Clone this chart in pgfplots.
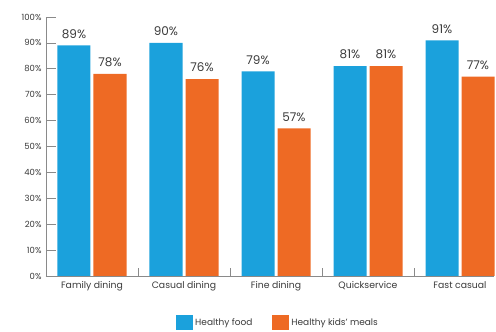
\documentclass[border=0pt]{standalone}
\usepackage{pgfplots}
\pgfplotsset{compat=1.18}
\usepackage{fontspec}
\setmainfont{Poppins}
\definecolor{cblue}{HTML}{1BA1DC}
\definecolor{corange}{HTML}{EE6A24}
\definecolor{axgray}{HTML}{8A8A8A}
\definecolor{txt}{HTML}{3A3A3A}
\begin{document}
\begin{tikzpicture}
\path[use as bounding box] (0,0) rectangle (496pt,332pt);
\begin{axis}[
  at={(46pt,56pt)}, anchor=south west,
  scale only axis, width=448pt, height=259pt,
  xmin=-0.5, xmax=4.3696, ymin=0, ymax=100,
  axis lines*=left,
  axis line style={axgray, line width=0.8pt},
  ybar, bar width=33pt,
  xtick={0,1,2,3,4},
  xticklabels={Family dining,Casual dining,Fine dining,Quickservice,Fast casual},
  minor xtick={0.5,1.5,2.5,3.5},
  every major x tick/.style={draw=none},
  every minor x tick/.style={axgray, line width=0.6pt},
  minor tick length=8pt,
  ytick={0,10,...,100},
  yticklabel={\pgfmathprintnumber{\tick}\%},
  every major y tick/.style={axgray, line width=0.6pt},
  major tick length=10pt,
  tick align=inside,
  x tick label style={font=\fontsize{9.3}{11}\selectfont, text=txt, yshift=-2pt},
  y tick label style={font=\fontsize{8.5}{10}\selectfont, text=txt, xshift=-1pt},
  /pgf/number format/assume math mode=true,
  nodes near coords={\pgfmathprintnumber{\pgfplotspointmeta}\%},
  every node near coord/.append style={font=\fontsize{12}{14}\selectfont, text=txt, yshift=3.5pt},
  clip=false,
  legend columns=2,
  legend style={at={(0.518,-0.181)}, anchor=center, draw=none, fill=none,
    font=\fontsize{9}{10}\selectfont, text=txt,
    /tikz/every even column/.append style={column sep=18pt}},
  legend image code/.code={\fill[#1] (0pt,-7.5pt) rectangle (17pt,7.5pt);},
]
\addplot[fill=cblue, draw=none, bar shift=-18pt] coordinates {(0,89) (1,90) (2,79) (3,81) (4,91)};
\addplot[fill=corange, draw=none, bar shift=18pt] coordinates {(0,78) (1,76) (2,57) (3,81) (4,77)};
\legend{Healthy food, Healthy kids' meals}
\end{axis}
\end{tikzpicture}
\end{document}
